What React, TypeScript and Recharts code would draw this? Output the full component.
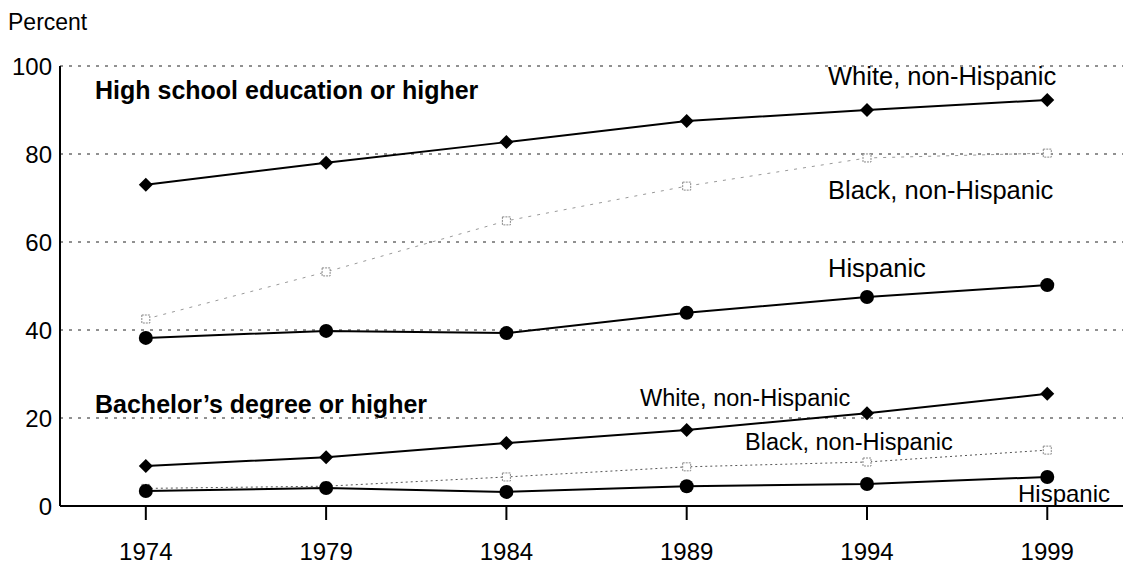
import React from 'react';
import { LineChart, Line, XAxis, YAxis, CartesianGrid } from 'recharts';

const years = [1974, 1979, 1984, 1989, 1994, 1999];
const hsWhite = [73.0, 78.0, 82.7, 87.5, 90.0, 92.3];
const hsBlack = [42.5, 53.2, 64.8, 72.7, 79.1, 80.2];
const hsHispanic = [38.2, 39.8, 39.3, 43.9, 47.5, 50.2];
const baWhite = [9.1, 11.1, 14.3, 17.3, 21.1, 25.5];
const baBlack = [4.0, 4.5, 6.6, 8.9, 10.0, 12.7];
const baHispanic = [3.4, 4.1, 3.2, 4.5, 5.0, 6.6];
const yTicks = [0, 20, 40, 60, 80, 100];

const data = years.map((y, i) => ({
  year: y,
  hsWhite: hsWhite[i],
  hsBlack: hsBlack[i],
  hsHispanic: hsHispanic[i],
  baWhite: baWhite[i],
  baBlack: baBlack[i],
  baHispanic: baHispanic[i],
}));

const FONT = '"Liberation Sans", Arial, sans-serif';

const Diamond = (props: any) => {
  const { cx, cy, key } = props;
  if (cx == null || cy == null) return null;
  const r = 7;
  return (
    <polygon
      key={key}
      points={`${cx},${cy - r} ${cx + r},${cy} ${cx},${cy + r} ${cx - r},${cy}`}
      fill="#000"
    />
  );
};

const Circle = (props: any) => {
  const { cx, cy, key } = props;
  if (cx == null || cy == null) return null;
  return <circle key={key} cx={cx} cy={cy} r={7} fill="#000" />;
};

const Square = (props: any) => {
  const { cx, cy, key } = props;
  if (cx == null || cy == null) return null;
  return (
    <rect key={key} x={cx - 4} y={cy - 4} width={8} height={8} fill="#fff" stroke="#888" strokeWidth={1} strokeDasharray="2 1" />
  );
};

const label = (text: string, left: number, top: number, size: number, bold = false) => (
  <div
    style={{
      position: 'absolute',
      left,
      top,
      fontFamily: FONT,
      fontSize: size,
      fontWeight: bold ? 700 : 400,
      color: '#000',
      whiteSpace: 'nowrap',
      lineHeight: 1,
    }}
  >
    {text}
  </div>
);

export default function App() {
  return (
    <div style={{ position: 'absolute', left: 0, top: 0, width: 1123, height: 568, background: '#fff' }}>
      <LineChart
        width={1123}
        height={568}
        data={data}
        margin={{ top: 66, right: 0, left: 0, bottom: 0 }}
      >
        <CartesianGrid vertical={false} stroke="#222" strokeDasharray="3 6" />
        <XAxis
          dataKey="year"
          type="number"
          domain={[1971.62, 2001.1]}
          ticks={years}
          allowDataOverflow
          height={62}
          tickSize={14}
          tickMargin={23}
          stroke="#000"
          strokeWidth={2}
          tick={{ fill: '#000', fontSize: 24, fontFamily: FONT }}
        />
        <YAxis
          type="number"
          domain={[0, 100]}
          ticks={yTicks}
          width={60}
          tickLine={false}
          tickSize={4}
          tickMargin={4}
          stroke="#000"
          strokeWidth={2}
          tick={{ fill: '#000', fontSize: 24, fontFamily: FONT }}
        />
        <Line dataKey="hsBlack" stroke="#999" strokeWidth={1} strokeDasharray="3 6" dot={Square} isAnimationActive={false} />
        <Line dataKey="baBlack" stroke="#555" strokeWidth={1} strokeDasharray="2 3" dot={Square} isAnimationActive={false} />
        <Line dataKey="hsWhite" stroke="#000" strokeWidth={2} dot={Diamond} isAnimationActive={false} />
        <Line dataKey="hsHispanic" stroke="#000" strokeWidth={2} dot={Circle} isAnimationActive={false} />
        <Line dataKey="baWhite" stroke="#000" strokeWidth={2} dot={Diamond} isAnimationActive={false} />
        <Line dataKey="baHispanic" stroke="#000" strokeWidth={2} dot={Circle} isAnimationActive={false} />
      </LineChart>
      {label('Percent', 8, 11, 23)}
      {label('High school education or higher', 95, 78, 25, true)}
      {label('Bachelor\u2019s degree or higher', 95, 392, 25, true)}
      {label('White, non-Hispanic', 828, 64, 25.5)}
      {label('Black, non-Hispanic', 828, 178, 25.5)}
      {label('Hispanic', 828, 256, 25.5)}
      {label('White, non-Hispanic', 640, 387, 23.5)}
      {label('Black, non-Hispanic', 745, 431, 23.5)}
      {label('Hispanic', 1018, 482, 24)}
    </div>
  );
}
